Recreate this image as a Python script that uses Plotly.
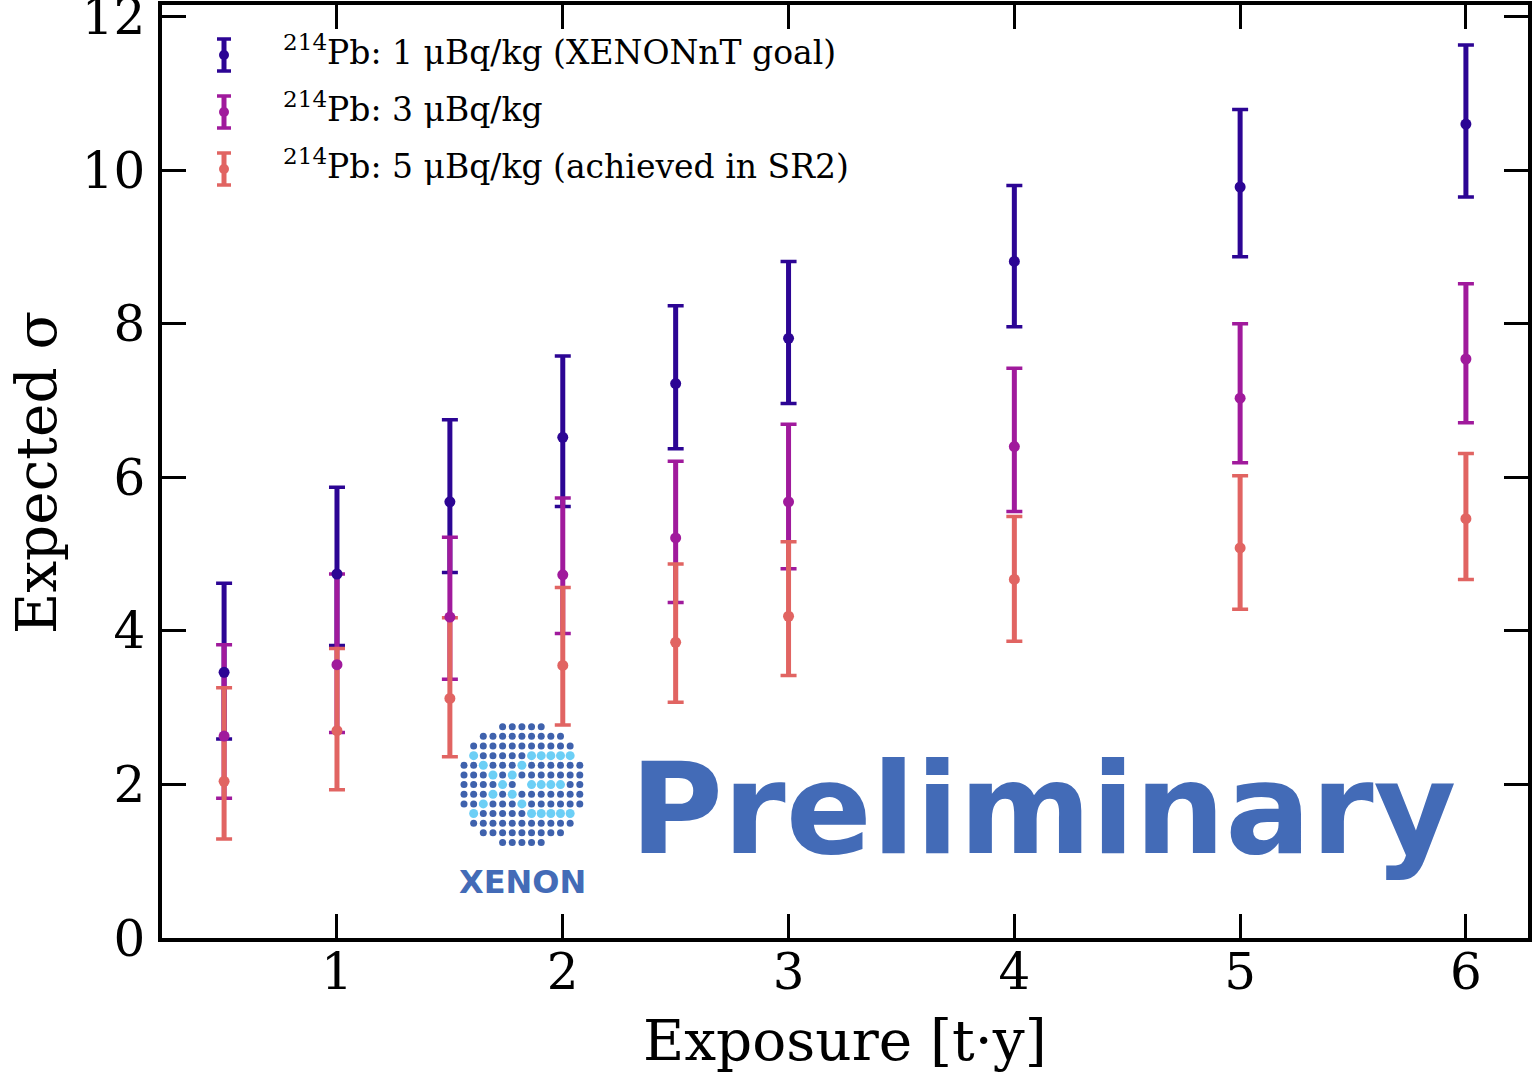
import plotly.graph_objects as go

# ---------------- data ----------------
exposure = [0.5, 1, 1.5, 2, 2.5, 3, 4, 5, 6]

sig_1 = [3.46, 4.74, 5.68, 6.52, 7.22, 7.81, 8.81, 9.78, 10.60]
sig_1_hi = [4.62, 5.87, 6.75, 7.58, 8.235, 8.81, 9.80, 10.79, 11.63]
sig_1_lo = [2.59, 3.81, 4.76, 5.62, 6.37, 6.96, 7.96, 8.87, 9.65]

sig_3 = [2.63, 3.56, 4.18, 4.73, 5.21, 5.68, 6.40, 7.03, 7.54]
sig_3_hi = [3.82, 4.74, 5.22, 5.73, 6.21, 6.69, 7.42, 8.00, 8.52]
sig_3_lo = [1.82, 2.675, 3.37, 3.965, 4.37, 4.81, 5.555, 6.19, 6.71]

sig_5 = [2.04, 2.70, 3.12, 3.55, 3.85, 4.19, 4.67, 5.08, 5.46]
sig_5_hi = [3.26, 3.77, 4.17, 4.565, 4.87, 5.16, 5.49, 6.02, 6.31]
sig_5_lo = [1.29, 1.93, 2.36, 2.775, 3.07, 3.42, 3.865, 4.28, 4.67]

labels = [
    "<sup>214</sup>Pb: 1 μBq/kg (XENONnT goal)",
    "<sup>214</sup>Pb: 3 μBq/kg",
    "<sup>214</sup>Pb: 5 μBq/kg (achieved in SR2)",
]
colors = ["#2c0594", "#a01a9c", "#e16462"]

x_ticks = [1, 2, 3, 4, 5, 6]
y_ticks = [0, 2, 4, 6, 8, 10, 12]

series = [(sig_1, sig_1_hi, sig_1_lo), (sig_3, sig_3_hi, sig_3_lo), (sig_5, sig_5_hi, sig_5_lo)]

FONT = "DejaVu Serif"
fig = go.Figure()

# error bars first (all series), markers on top
for (v, hi, lo), c in zip(series, colors):
    plus = [h - m for h, m in zip(hi, v)]
    minus = [m - l for m, l in zip(v, lo)]
    # caps
    fig.add_trace(go.Scatter(
        x=exposure, y=v, mode="markers",
        marker=dict(size=2, color="rgba(0,0,0,0)"),
        error_y=dict(type="data", symmetric=False, array=plus, arrayminus=minus,
                     color=c, thickness=3.5, width=8),
        showlegend=False, hoverinfo="skip", cliponaxis=False))
    # stems
    fig.add_trace(go.Scatter(
        x=exposure, y=v, mode="markers",
        marker=dict(size=2, color="rgba(0,0,0,0)"),
        error_y=dict(type="data", symmetric=False, array=plus, arrayminus=minus,
                     color=c, thickness=5, width=0),
        showlegend=False, hoverinfo="skip", cliponaxis=False))
for (v, hi, lo), c in zip(series, colors):
    fig.add_trace(go.Scatter(
        x=exposure, y=v, mode="markers",
        marker=dict(size=11, color=c, line=dict(width=0)),
        showlegend=False, cliponaxis=False))

# ---------------- pixel overlay (decorations) ----------------
L, R, T, B = 162, 1528, 5, 938
W, H = R - L, B - T


def px2paper(px, py):
    return (px - L) / W, (B - py) / H


# XENON logo dots (13x13 grid within circle)
dark_x, dark_y, light_x, light_y = [], [], [], []
light_cells = {(3, 1), (4, 2), (5, 3), (6, 4), (7, 3), (8, 2), (9, 1),
               (4, 6), (5, 5), (7, 5), (8, 6),
               (3, 7), (3, 8), (3, 9), (3, 10), (3, 11),
               (6, 7), (6, 8), (6, 9), (6, 10),
               (9, 7), (9, 8), (9, 9), (9, 10), (9, 11)}
cx0, cy0, step = 464.0, 726.7, 9.65
for r in range(13):
    for c in range(13):
        if (r - 6) ** 2 + (c - 6) ** 2 > 43:
            continue
        if (r, c) == (6, 6):
            continue
        px, py = cx0 + c * step, cy0 + r * step
        if (r, c) in light_cells:
            light_x.append(px); light_y.append(py)
        else:
            dark_x.append(px); dark_y.append(py)
fig.add_trace(go.Scatter(x=dark_x, y=dark_y, xaxis="x2", yaxis="y2", mode="markers",
                         marker=dict(size=7, color="#3f62ad"), showlegend=False, hoverinfo="skip"))
fig.add_trace(go.Scatter(x=light_x, y=light_y, xaxis="x2", yaxis="y2", mode="markers",
                         marker=dict(size=9, color="#6ccff6"), showlegend=False, hoverinfo="skip"))

# legend (manual, errorbar style)
leg_y = [55, 112, 169]
for yc, c, lab in zip(leg_y, colors, labels):
    fig.add_shape(type="line", xref="x2", yref="y2", x0=224, x1=224, y0=yc - 16, y1=yc + 16,
                  line=dict(color=c, width=5))
    for yy in (yc - 16, yc + 16):
        fig.add_shape(type="line", xref="x2", yref="y2", x0=217, x1=231, y0=yy, y1=yy,
                      line=dict(color=c, width=3.5))
    fig.add_annotation(x=281, y=yc - 5, xref="x2", yref="y2", text=lab, showarrow=False,
                       xanchor="left", yanchor="middle",
                       font=dict(family=FONT, size=33, color="black"))
fig.add_trace(go.Scatter(x=[224, 224, 224], y=leg_y, xaxis="x2", yaxis="y2", mode="markers",
                         marker=dict(size=10, color=colors), showlegend=False, hoverinfo="skip"))

fig.add_annotation(x=1043, y=809, xref="x2", yref="y2", text="<b>Preliminary</b>", showarrow=False,
                   xanchor="center", yanchor="middle",
                   font=dict(family="DejaVu Sans", size=127, color="#436bb7"))
fig.add_annotation(x=522, y=882, xref="x2", yref="y2", text="<b>XENON</b>", showarrow=False,
                   xanchor="center", yanchor="middle",
                   font=dict(family="DejaVu Sans", size=32, color="#436bb7"))

# axis titles (paper coordinates, may lie outside the plot area)
tx, ty = px2paper(845, 1040)
fig.add_annotation(x=tx, y=ty, xref="paper", yref="paper", text="Exposure [t·y]", showarrow=False,
                   xanchor="center", yanchor="middle",
                   font=dict(family=FONT, size=56.5, color="black"))
tx, ty = px2paper(36, 473)
fig.add_annotation(x=tx, y=ty, xref="paper", yref="paper", text="Expected σ", showarrow=False,
                   xanchor="center", yanchor="middle", textangle=-90,
                   font=dict(family=FONT, size=56.5, color="black"))

axis_common = dict(showline=True, linecolor="black", linewidth=3.5, mirror="ticks",
                   ticks="inside", ticklen=24, tickwidth=3, tickcolor="black",
                   showgrid=False, zeroline=False, ticklabeloverflow="allow",
                   automargin=False,
                   tickfont=dict(family=FONT, size=50, color="black"))

fig.update_layout(
    width=1536, height=1079,
    margin=dict(l=L, r=1536 - R, t=T, b=1079 - B, pad=0, autoexpand=False),
    paper_bgcolor="white", plot_bgcolor="white",
    showlegend=False,
    xaxis=dict(range=[0.225, 6.275], tickvals=x_ticks, ticklabelstandoff=-13, **axis_common),
    yaxis=dict(range=[0, 12.15], tickvals=y_ticks, ticklabelstandoff=3, **axis_common),
    xaxis2=dict(range=[L, R], overlaying="x", anchor="y2", visible=False, fixedrange=True,
                automargin=False),
    yaxis2=dict(range=[B, T], overlaying="y", anchor="x2", visible=False, fixedrange=True,
                automargin=False),
)

fig.write_html("out.html")
